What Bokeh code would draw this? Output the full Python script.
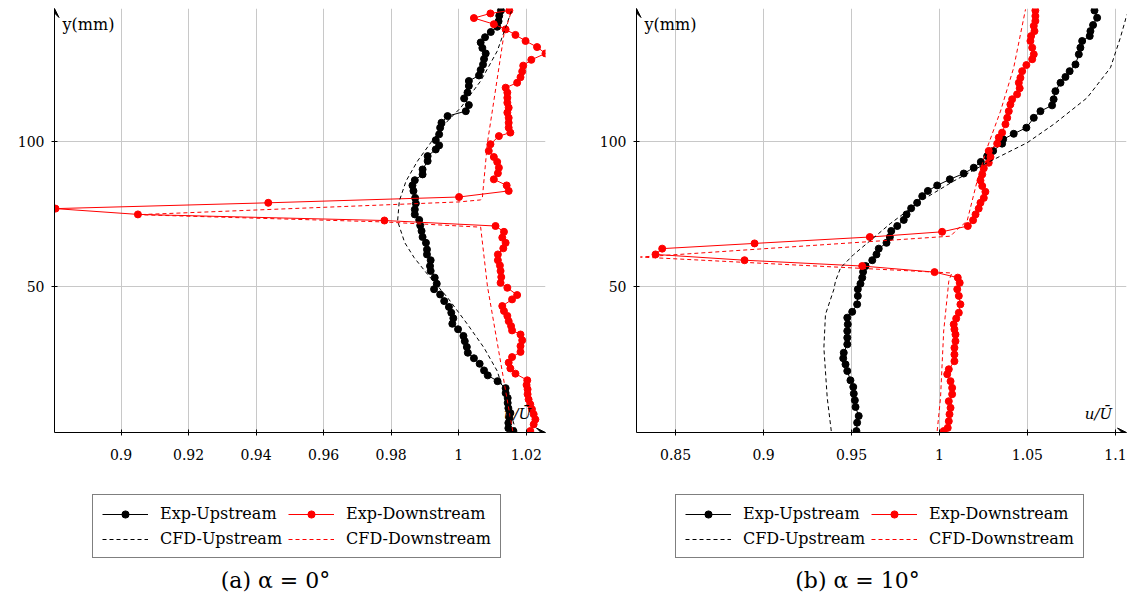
from bokeh.plotting import figure
from bokeh.layouts import row, column
from bokeh.models import (Legend, LegendItem, Label, Arrow, VeeHead, FixedTicker,
                          Range1d, NumeralTickFormatter)
from bokeh.embed import file_html
from bokeh.resources import INLINE

# ---------------- Panel (a): alpha = 0 deg ----------------
a_up_y = [0, 1.0, 2.8, 4.5, 6.2, 7.9, 9.7, 11.4, 13.1, 14.8, 17.2, 19.2, 20.9, 23.2, 25.1, 27.0,
          29.0, 31.0, 32.8, 35.1, 37.0, 38.9, 40.8, 42.8, 44.8, 47.1, 48.9, 50.8, 52.9, 55.2,
          56.9, 58.9, 60.9, 62.6, 64.9, 66.9, 69.0, 70.9, 72.8, 74.7, 76.4, 78.5, 80.4, 82.8,
          84.7, 86.5, 88.5, 90.2, 93.1, 94.8, 97.1, 98.5, 100.3, 102.3, 104.6, 106.3, 108.6,
          110.3, 112.4, 114.7, 116.7, 119.0, 120.7, 122.6, 124.5, 126.4, 128.3, 130.2, 132.1,
          134.0, 135.8, 137.6, 139.4, 141.3, 143.2, 145.0]
a_up_u = [1.0162, 1.0147, 1.0147, 1.0150, 1.0153, 1.0147, 1.0145, 1.0145, 1.0139, 1.0139,
          1.0115, 1.0086, 1.0075, 1.0062, 1.0045, 1.0027, 1.0024, 1.0018, 1.0014, 0.9998,
          0.9981, 0.9984, 0.9978, 0.9971, 0.9957, 0.9945, 0.9927, 0.9935, 0.9929, 0.9917,
          0.9915, 0.9917, 0.9906, 0.9906, 0.9903, 0.9893, 0.9890, 0.9886, 0.9883, 0.9870,
          0.9870, 0.9873, 0.9871, 0.9866, 0.9863, 0.9870, 0.9893, 0.9893, 0.9908, 0.9908,
          0.9932, 0.9942, 0.9932, 0.9942, 0.9945, 0.9949, 0.9967, 1.0021, 1.0030, 1.0016,
          1.0026, 1.0030, 1.0030, 1.0060, 1.0065, 1.0072, 1.0075, 1.0080, 1.0070, 1.0065,
          1.0078, 1.0095, 1.0114, 1.0118, 1.0120, 1.0125]

a_down_y = [0, 2.3, 4.0, 5.8, 7.5, 9.2, 10.9, 12.7, 14.4, 15.9, 17.5, 19.8, 21.6, 23.6, 25.5,
            27.3, 29.3, 31.3, 33.3, 34.7, 36.2, 37.9, 39.7, 41.4, 43.1, 45.4, 46.9, 49.4, 51.1,
            53.1, 55.2, 57.1, 58.9, 60.9, 63.0, 64.9, 66.7, 68.7, 70.7, 72.6, 74.7, 76.7, 78.7,
            80.7, 82.8, 84.7, 86.8, 88.9, 90.8, 92.8, 94.5, 96.6, 98.9, 101.7, 102.9, 104.6,
            106.3, 108.0, 109.8, 111.5, 113.2, 114.9, 116.7, 118.4, 120.1, 122.0, 124.0, 126.0,
            128.0, 130.2, 132.4, 134.5, 136.6, 138.5, 140.3, 142.4, 144.0, 145.0]
a_down_u = [1.0212, 1.0222, 1.0227, 1.0222, 1.0217, 1.0212, 1.0207, 1.0204, 1.0204, 1.0201,
            1.0203, 1.0168, 1.0153, 1.0148, 1.0158, 1.0183, 1.0183, 1.0188, 1.0183, 1.0158,
            1.0155, 1.0148, 1.0144, 1.0134, 1.0129, 1.0158, 1.0173, 1.0144, 1.0124, 1.0126,
            1.0124, 1.0122, 1.0116, 1.0116, 1.0132, 1.0139, 1.0129, 1.0134, 1.0109, 0.9780,
            0.9050, 0.8806, 0.9436, 1.0001, 1.0148, 1.0142, 1.0104, 1.0116, 1.0119, 1.0114,
            1.0104, 1.0089, 1.0094, 1.0119, 1.0153, 1.0148, 1.0148, 1.0148, 1.0144, 1.0148,
            1.0144, 1.0144, 1.0144, 1.0139, 1.0173, 1.0183, 1.0188, 1.0191, 1.0215, 1.0257,
            1.0232, 1.0198, 1.0168, 1.0139, 1.0104, 1.0045, 1.0094, 1.0150]

a_cfd_up_y = [0, 13.8, 20.7, 28.7, 36.8, 46.0, 54.0, 59.8, 65.0, 72.4, 79.3, 86.2, 93.1, 99.4,
              106.9, 111.5, 120.7, 131.0, 145.4]
a_cfd_up_u = [1.0170, 1.0133, 1.0114, 1.0075, 1.0026, 0.9967, 0.9908, 0.9868, 0.9840, 0.9819,
              0.9824, 0.9844, 0.9878, 0.9917, 0.9967, 1.0006, 1.0065, 1.0114, 1.0158]

a_cfd_down_y = [0, 13.8, 50.0, 70.3, 72.1, 74.6, 79.0, 79.7, 80.4, 99.4, 113.8, 136.8, 145.4]
a_cfd_down_u = [1.0160, 1.0139, 1.0085, 1.0065, 0.9780, 0.9050, 1.0000, 1.0065, 1.0070, 1.0085,
                1.0104, 1.0134, 1.0158]

a_ticks = [0.9, 0.92, 0.94, 0.96, 0.98, 1.0, 1.02]

# ---------------- Panel (b): alpha = 10 deg ----------------
b_up_y = [0, 2.9, 5.2, 8.3, 10.6, 12.9, 15.2, 17.5, 20.7, 23.0, 25.1, 27.0, 29.9, 32.2, 34.5,
          36.8, 39.1, 41.1, 43.7, 46.6, 48.9, 50.8, 52.9, 54.9, 56.9, 58.9, 60.9, 62.9, 64.9,
          66.9, 69.0, 70.7, 72.8, 74.7, 76.8, 78.7, 81.0, 82.8, 84.7, 86.8, 88.8, 90.8, 92.8,
          94.8, 96.6, 99.1, 100.6, 102.5, 104.6, 108.0, 110.3, 112.3, 114.4, 117.2, 120.1,
          122.1, 124.1, 126.4, 129.9, 132.2, 134.5, 136.2, 137.9, 140.0, 142.5, 145.0]
b_up_u = [0.9528, 0.9532, 0.9541, 0.9523, 0.9519, 0.9513, 0.9510, 0.9494, 0.9476, 0.9466,
          0.9453, 0.9456, 0.9476, 0.9476, 0.9476, 0.9479, 0.9476, 0.9504, 0.9532, 0.9536,
          0.9536, 0.9551, 0.9561, 0.9566, 0.9580, 0.9618, 0.9642, 0.9655, 0.9699, 0.9718,
          0.9726, 0.9760, 0.9797, 0.9813, 0.9839, 0.9873, 0.9902, 0.9934, 0.9987, 1.0059,
          1.0138, 1.0195, 1.0235, 1.0271, 1.0305, 1.0356, 1.0362, 1.0422, 1.0494, 1.0536,
          1.0574, 1.0640, 1.0649, 1.0659, 1.0688, 1.0716, 1.0740, 1.0773, 1.0792, 1.0801,
          1.0811, 1.0854, 1.0858, 1.0873, 1.0896, 1.0881]

b_down_y = [0, 1.1, 3.4, 5.8, 8.0, 10.3, 12.7, 14.9, 17.2, 19.6, 21.3, 24.1, 26.4, 28.7, 31.0,
            33.3, 35.1, 36.8, 38.8, 40.8, 43.7, 46.6, 48.9, 51.1, 52.9, 54.8, 56.9, 58.9, 60.9,
            62.9, 64.7, 66.9, 68.7, 70.7, 72.7, 74.7, 76.7, 78.7, 80.4, 82.5, 84.5, 86.4, 88.5,
            90.6, 92.5, 94.5, 96.6, 99.1, 101.2, 102.9, 105.8, 108.0, 110.3, 112.6, 114.4, 116.1,
            118.2, 120.1, 121.8, 124.1, 126.2, 128.2, 129.9, 132.2, 134.5, 136.2, 137.9, 139.7,
            141.4, 143.1, 145.0]
b_down_u = [1.0024, 1.0047, 1.0053, 1.0057, 1.0063, 1.0053, 1.0072, 1.0072, 1.0063, 1.0044,
            1.0053, 1.0085, 1.0085, 1.0085, 1.0091, 1.0091, 1.0085, 1.0081, 1.0095, 1.0110,
            1.0119, 1.0110, 1.0101, 1.0115, 1.0104, 0.9972, 0.9561, 0.8892, 0.8386, 0.8424,
            0.8949, 0.9604, 1.0015, 1.0161, 1.0191, 1.0205, 1.0223, 1.0233, 1.0252, 1.0261,
            1.0243, 1.0233, 1.0243, 1.0252, 1.0280, 1.0290, 1.0280, 1.0328, 1.0337, 1.0356,
            1.0375, 1.0385, 1.0394, 1.0403, 1.0413, 1.0441, 1.0456, 1.0451, 1.0460, 1.0470,
            1.0494, 1.0527, 1.0536, 1.0527, 1.0517, 1.0521, 1.0540, 1.0536, 1.0545, 1.0545,
            1.0545]

b_cfd_up_y = [0, 11.5, 28.7, 40.2, 48.9, 51.7, 56.3, 60.9, 66.7, 71.5, 79.3, 86.2, 92.5, 97.1,
              99.4, 105.8, 114.9, 125.3, 135.6, 143.7, 145.4]
b_cfd_up_u = [0.9385, 0.9362, 0.9343, 0.9352, 0.9400, 0.9409, 0.9438, 0.9513, 0.9627, 0.9720,
              0.9892, 1.0081, 1.0271, 1.0422, 1.0498, 1.0650, 1.0839, 1.0972, 1.1028, 1.1066,
              1.1085]

b_cfd_down_y = [0, 11.5, 34.5, 51.7, 54.5, 60.0, 67.2, 69.5, 72.4, 86.2, 97.7, 110.3, 125.3, 145.4]
b_cfd_down_u = [0.9987, 1.0006, 1.0024, 1.0053, 1.0070, 0.8300, 1.0063, 1.0100, 1.0157, 1.0214,
                1.0271, 1.0347, 1.0422, 1.0489]

b_ticks = [0.85, 0.9, 0.95, 1.0, 1.05, 1.1]

y_ticks = [50, 100]
series_names = ["Exp-Upstream", "Exp-Downstream", "CFD-Upstream", "CFD-Downstream"]
captions = ["(a) \u03b1 = 0\u00b0", "(b) \u03b1 = 10\u00b0"]

FONT = "DejaVu Serif"
GRID = "#c8c8c8"
FRAME_H = 424
Y0, Y1 = -0.5, 145.7
LEG_H = 130
NAN = float("nan")
MSIZE = 7


def styles():
    return [dict(line_color="black", line_width=1),
            dict(line_color="red", line_width=1),
            dict(line_color="black", line_width=1, line_dash="4 3"),
            dict(line_color="red", line_width=1, line_dash="4 3")]


def panel(xr, xticks, up, down, cup, cdown, border_left, border_right, frame_w):
    p = figure(frame_width=frame_w, frame_height=FRAME_H, x_range=Range1d(*xr),
               y_range=Range1d(Y0, Y1), output_backend="svg", toolbar_location=None,
               min_border_left=border_left, min_border_right=border_right,
               min_border_top=8, min_border_bottom=40)
    p.outline_line_color = None
    p.background_fill_color = "white"
    p.border_fill_color = "white"
    p.xaxis.ticker = FixedTicker(ticks=xticks)
    p.yaxis.ticker = FixedTicker(ticks=y_ticks)
    p.xaxis.formatter = NumeralTickFormatter(format="0.[00]")
    for ax in (p.xaxis[0], p.yaxis[0]):
        ax.axis_line_color = "black"
        ax.axis_line_width = 1
        ax.major_tick_in = 3
        ax.major_tick_out = 3
        ax.minor_tick_line_color = None
        ax.major_label_text_font = FONT
        ax.major_label_text_font_size = "14px"
        ax.major_label_text_color = "black"
    p.xaxis.major_label_standoff = 13
    p.yaxis.major_label_standoff = 7
    p.xgrid.grid_line_color = GRID
    p.ygrid.grid_line_color = GRID
    p.xgrid.grid_line_width = 1
    p.ygrid.grid_line_width = 1

    st = styles()
    p.line(up[0], up[1], **st[0])
    p.scatter(up[0], up[1], size=MSIZE, fill_color="black", line_color="black")
    p.line(down[0], down[1], **st[1])
    p.scatter(down[0], down[1], size=MSIZE, fill_color="red", line_color="red")
    p.line(cup[0], cup[1], **st[2])
    p.line(cdown[0], cdown[1], **st[3])

    # axis arrows
    p.add_layout(Arrow(end=VeeHead(size=9, fill_color="black", line_color="black"),
                       x_start=xr[0], y_start=Y1 - 6, x_end=xr[0], y_end=Y1,
                       line_color="black", line_width=1))
    p.add_layout(Arrow(end=VeeHead(size=9, fill_color="black", line_color="black"),
                       x_start=xr[1] - 0.01, y_start=Y0, x_end=xr[1], y_end=Y0,
                       line_color="black", line_width=1))

    p.add_layout(Label(x=8, y=140.2, x_units="screen", text="y(mm)", text_font=FONT,
                       text_font_size="16px", text_baseline="middle", text_color="black"))
    p.add_layout(Label(x=frame_w - 28, y=6.0, y_units="data", x_units="screen",
                       text="u/\u016a", text_font=FONT, text_font_style="italic",
                       text_font_size="15px", text_align="center", text_baseline="middle",
                       text_color="black"))
    return p


def legend_fig(width, leg_x, cap_x, caption):
    q = figure(width=width, height=LEG_H, x_range=Range1d(0, 1), y_range=Range1d(0, 1),
               output_backend="svg", toolbar_location=None, x_axis_location=None,
               y_axis_location=None, min_border=0)
    q.outline_line_color = None
    q.grid.visible = False
    st = styles()
    # placeholder renderers (no visible data) that only feed the legend samples
    r1 = q.line([NAN], [NAN], **st[0])
    m1 = q.scatter([NAN], [NAN], size=6, fill_color="black", line_color="black")
    r2 = q.line([NAN], [NAN], **st[1])
    m2 = q.scatter([NAN], [NAN], size=6, fill_color="red", line_color="red")
    r3 = q.line([NAN], [NAN], **st[2])
    r4 = q.line([NAN], [NAN], **st[3])
    legend = Legend(items=[LegendItem(label=series_names[0], renderers=[r1, m1]),
                           LegendItem(label=series_names[1], renderers=[r2, m2]),
                           LegendItem(label=series_names[2], renderers=[r3]),
                           LegendItem(label=series_names[3], renderers=[r4])],
                    orientation="horizontal", ncols=2, location=(leg_x, 44))
    legend.label_text_font = FONT
    legend.label_text_font_size = "16px"
    legend.label_text_color = "black"
    legend.label_height = 18
    legend.glyph_height = 18
    legend.glyph_width = 46
    legend.label_standoff = 12
    legend.spacing = 6
    legend.padding = 9
    legend.margin = 0
    legend.border_line_color = "black"
    legend.border_line_width = 1
    legend.background_fill_color = "white"
    legend.background_fill_alpha = 1
    q.add_layout(legend)
    q.add_layout(Label(x=cap_x, y=22, x_units="screen", y_units="screen", text=caption,
                       text_font=FONT, text_font_size="22px", text_align="center",
                       text_baseline="middle", text_color="black"))
    return q


pa = panel((0.8803, 1.0257), a_ticks, (a_up_u, a_up_y), (a_down_u, a_down_y),
           (a_cfd_up_u, a_cfd_up_y), (a_cfd_down_u, a_cfd_down_y), 54, 25, 491)
pb = panel((0.8278, 1.1063), b_ticks, (b_up_u, b_up_y), (b_down_u, b_down_y),
           (b_cfd_up_u, b_cfd_up_y), (b_cfd_down_u, b_cfd_down_y), 66, 2, 490)
la = legend_fig(570, 38, 221, captions[0])
lb = legend_fig(558, 39, 221, captions[1])

layout = row(column(pa, la), column(pb, lb))
open("out.html", "w").write(file_html(layout, INLINE))
